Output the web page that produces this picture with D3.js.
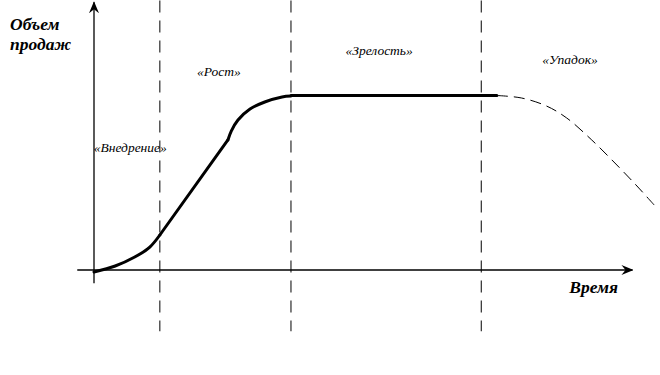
<!DOCTYPE html>
<html>
<head>
<meta charset="utf-8">
<script src="https://cdn.jsdelivr.net/npm/d3@7"></script>
<style>
  body { margin: 0; background: #fff; }
  svg { display: block; }
  text { font-family: "Liberation Serif", "DejaVu Serif", serif; font-style: italic; fill: #000; }
</style>
</head>
<body>
<svg id="chart" width="660" height="375"></svg>
<script>
// time in arbitrary units (0..100), sales in % of plateau
const phaseBounds = [11.8, 35.3, 69.4];
const phaseLabels = ["«Внедрение»", "«Рост»", "«Зрелость»", "«Упадок»"];
const phaseLabelPos = [[6.5, 67.4], [22.4, 111], [51.1, 123], [85.3, 117.7]];

const introTime = [0, 3.8, 7.3, 10.0, 11.8];
const introSales = [-1.1, 2.3, 7.4, 13.1, 20];
const growthTime = [11.8, 24.0];
const growthSales = [20, 74.3];
const shoulderTime = [24.0, 24.6, 25.8, 27.96, 30.6, 33.7, 35.3];
const shoulderSales = [74.3, 79.4, 85.7, 92, 96, 98.9, 99.4];
const maturityTime = [35.3, 72.2];
const maturitySales = [99.7, 99.7];
const declineTime = [72.2, 76.6, 81.1, 84.7, 89.2, 93.7, 97.3, 100.4];
const declineSales = [99.7, 98.3, 93.7, 86.9, 74.3, 60, 48, 37.1];

const yTitle = ["Объем", "продаж"];
const xTitle = "Время";

const svg = d3.select("#chart");
const x = d3.scaleLinear().domain([0, 100]).range([94, 652]);
const y = d3.scaleLinear().domain([0, 100]).range([270, 95]);

const defs = svg.append("defs");
defs.append("marker")
  .attr("id", "arrow")
  .attr("viewBox", "0 0 12 10")
  .attr("refX", 11).attr("refY", 5)
  .attr("markerWidth", 12).attr("markerHeight", 10)
  .attr("markerUnits", "userSpaceOnUse")
  .attr("orient", "auto")
  .append("path")
  .attr("d", "M0,0 L12,5 L0,10 L4,5 Z")
  .attr("fill", "#000");

// phase boundaries
svg.selectAll("line.phase")
  .data(phaseBounds)
  .join("line")
  .attr("class", "phase")
  .attr("x1", (d) => x(d)).attr("x2", (d) => x(d))
  .attr("y1", y(154)).attr("y2", y(-35))
  .attr("stroke", "#000")
  .attr("stroke-width", 1)
  .attr("stroke-dasharray", "12,8");

// axes
svg.append("line")
  .attr("x1", x(-3)).attr("x2", x(96.5))
  .attr("y1", y(0)).attr("y2", y(0))
  .attr("stroke", "#000").attr("stroke-width", 1.3)
  .attr("marker-end", "url(#arrow)");
svg.append("line")
  .attr("x1", x(0)).attr("x2", x(0))
  .attr("y1", y(-7.5)).attr("y2", y(153))
  .attr("stroke", "#000").attr("stroke-width", 1.3)
  .attr("marker-end", "url(#arrow)");

const zip = (a, b) => a.map((v, i) => [v, b[i]]);
const smooth = d3.line().x((d) => x(d[0])).y((d) => y(d[1])).curve(d3.curveCatmullRom.alpha(0.5));
const straight = d3.line().x((d) => x(d[0])).y((d) => y(d[1]));

const solidParts = [
  { pts: zip(introTime, introSales), gen: smooth },
  { pts: zip(growthTime, growthSales), gen: straight },
  { pts: zip(shoulderTime, shoulderSales), gen: smooth },
  { pts: zip(maturityTime, maturitySales), gen: straight },
];

svg.selectAll("path.solid")
  .data(solidParts)
  .join("path")
  .attr("class", "solid")
  .attr("d", (d) => d.gen(d.pts))
  .attr("fill", "none")
  .attr("stroke", "#000")
  .attr("stroke-width", 3)
  .attr("stroke-linecap", "round");

svg.append("path")
  .datum(zip(declineTime, declineSales))
  .attr("d", smooth)
  .attr("fill", "none")
  .attr("stroke", "#000")
  .attr("stroke-width", 1)
  .attr("stroke-dasharray", "11,6");

// labels
svg.selectAll("text.phase")
  .data(phaseLabels)
  .join("text")
  .attr("class", "phase")
  .attr("x", (d, i) => x(phaseLabelPos[i][0]))
  .attr("y", (d, i) => y(phaseLabelPos[i][1]))
  .attr("text-anchor", "middle")
  .attr("font-size", 13.5)
  .text((d) => d);

svg.selectAll("text.ytitle")
  .data(yTitle)
  .join("text")
  .attr("class", "ytitle")
  .attr("x", 10)
  .attr("y", (d, i) => 30 + i * 20)
  .attr("font-size", 17.5)
  .attr("font-weight", "bold")
  .text((d) => d);

svg.append("text")
  .attr("x", 618).attr("y", 293)
  .attr("text-anchor", "end")
  .attr("font-size", 17.5)
  .attr("font-weight", "bold")
  .text(xTitle);
</script>
</body>
</html>
